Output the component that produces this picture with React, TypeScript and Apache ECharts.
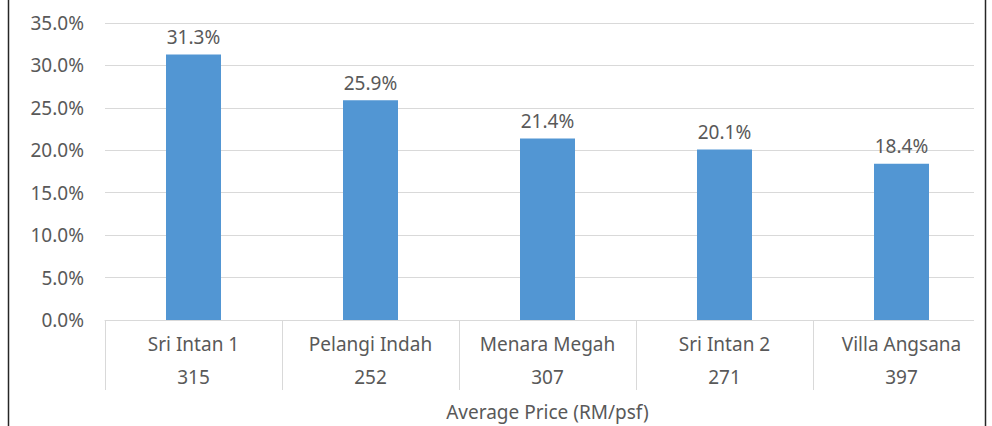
import React, { useEffect, useRef } from "react";
import * as echarts from "echarts";

const categories = ["Sri Intan 1", "Pelangi Indah", "Menara Megah", "Sri Intan 2", "Villa Angsana"];
const shareValues = [31.3, 25.9, 21.4, 20.1, 18.4];
const avgPrices = ["315", "252", "307", "271", "397"];
const priceAxisName = "Average Price (RM/psf)";

const FONT = "'Noto Sans', sans-serif";
const GRAY = "#595959";
const FS = 19;

export default function App() {
  const ref = useRef<HTMLDivElement>(null);
  useEffect(() => {
    if (!ref.current) return;
    const chart = echarts.init(ref.current, undefined, { renderer: "svg" });
    chart.setOption({
      animation: false,
      textStyle: { fontFamily: FONT },
      grid: { left: 105, right: 2, top: 23, bottom: 99 },
      xAxis: [
        {
          type: "category",
          data: categories,
          position: "bottom",
          axisLine: { show: true, lineStyle: { color: "#d9d9d9", width: 1 } },
          axisTick: { show: true, interval: 0, length: 70, lineStyle: { color: "#d9d9d9" } },
          axisLabel: { interval: 0, color: GRAY, fontSize: FS, margin: 14, fontFamily: FONT },
        },
        {
          type: "category",
          data: avgPrices,
          position: "bottom",
          offset: 33,
          axisLine: { show: false },
          axisTick: { show: false },
          axisLabel: { interval: 0, color: GRAY, fontSize: FS, margin: 14, fontFamily: FONT },
          name: priceAxisName,
          nameLocation: "middle",
          nameGap: 49,
          nameTextStyle: { color: GRAY, fontSize: FS, fontFamily: FONT },
        },
      ],
      yAxis: {
        type: "value",
        min: 0,
        max: 35,
        interval: 5,
        axisLine: { show: false },
        axisTick: { show: false },
        splitLine: { lineStyle: { color: "#d9d9d9", width: 1 } },
        axisLabel: {
          color: GRAY,
          fontSize: FS,
          margin: 21,
          fontFamily: FONT,
          formatter: (v: number) => v.toFixed(1) + "%",
        },
      },
      series: [
        {
          type: "bar",
          data: shareValues,
          barWidth: 55,
          itemStyle: { color: "#5296d3" },
          label: {
            show: true,
            position: "top",
            distance: 8,
            color: GRAY,
            fontSize: FS,
            fontFamily: FONT,
            formatter: (p: any) => p.value.toFixed(1) + "%",
          },
        },
      ],
      graphic: [
        {
          type: "rect",
          z: 100,
          shape: { x: 974, y: 0, width: 18, height: 426 },
          style: { fill: "#ffffff" },
        },
        {
          type: "line",
          z: 101,
          shape: { x1: 8.5, y1: 0, x2: 8.5, y2: 426 },
          style: { stroke: "#262626", lineWidth: 1.5 },
        },
        {
          type: "line",
          z: 101,
          shape: { x1: 985.5, y1: 0, x2: 985.5, y2: 426 },
          style: { stroke: "#262626", lineWidth: 1.5 },
        },
      ],
    });
    return () => chart.dispose();
  }, []);
  return (
    <div
      ref={ref}
      style={{ position: "absolute", left: 0, top: 0, width: 992, height: 426, background: "#fff" }}
    />
  );
}
